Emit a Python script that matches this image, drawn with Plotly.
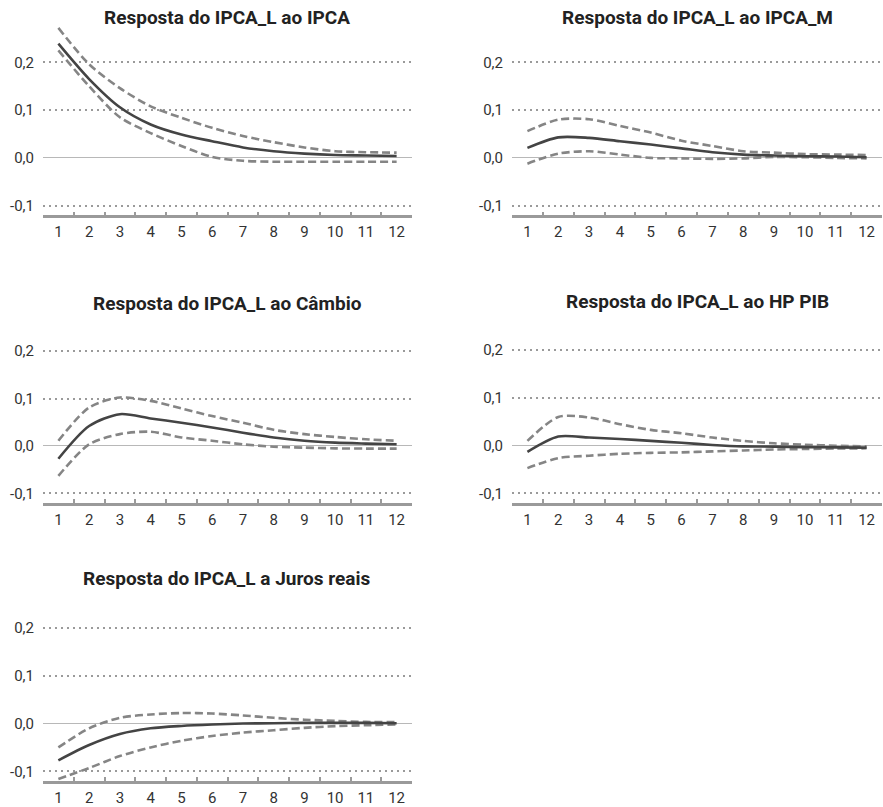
import plotly.graph_objects as go

periods = ["1", "2", "3", "4", "5", "6", "7", "8", "9", "10", "11", "12"]

titles = [
    "Resposta do IPCA_L ao IPCA",
    "Resposta do IPCA_L ao IPCA_M",
    "Resposta do IPCA_L ao Câmbio",
    "Resposta do IPCA_L ao HP PIB",
    "Resposta do IPCA_L a Juros reais",
]

ipca_resp = [0.239, 0.165, 0.106, 0.070, 0.049, 0.035, 0.022, 0.014, 0.009, 0.006, 0.005, 0.004]
ipca_up = [0.272, 0.196, 0.146, 0.108, 0.084, 0.063, 0.046, 0.033, 0.022, 0.014, 0.012, 0.011]
ipca_lo = [0.225, 0.150, 0.085, 0.052, 0.025, 0.002, -0.006, -0.008, -0.008, -0.008, -0.008, -0.008]

ipcam_resp = [0.021, 0.043, 0.042, 0.035, 0.028, 0.020, 0.012, 0.007, 0.005, 0.0035, 0.003, 0.0015]
ipcam_up = [0.056, 0.080, 0.081, 0.067, 0.053, 0.036, 0.025, 0.014, 0.011, 0.008, 0.007, 0.006]
ipcam_lo = [-0.012, 0.009, 0.014, 0.007, 0.000, -0.001, -0.002, -0.001, 0.002, 0.0015, 0.000, -0.001]

cambio_resp = [-0.027, 0.042, 0.067, 0.058, 0.049, 0.039, 0.028, 0.018, 0.011, 0.007, 0.005, 0.0035]
cambio_up = [0.011, 0.081, 0.102, 0.095, 0.079, 0.063, 0.049, 0.034, 0.025, 0.019, 0.014, 0.011]
cambio_lo = [-0.063, 0.0035, 0.025, 0.030, 0.018, 0.011, 0.0035, -0.0015, -0.0035, -0.005, -0.0055, -0.0055]

pib_resp = [-0.013, 0.019, 0.017, 0.014, 0.010, 0.006, 0.0015, -0.0015, -0.002, -0.003, -0.0035, -0.004]
pib_up = [0.010, 0.060, 0.059, 0.045, 0.033, 0.026, 0.017, 0.010, 0.005, 0.002, 0.000, -0.0015]
pib_lo = [-0.047, -0.026, -0.021, -0.017, -0.015, -0.014, -0.012, -0.010, -0.008, -0.007, -0.006, -0.0055]

juros_resp = [-0.077, -0.045, -0.022, -0.010, -0.005, -0.002, 0.000, 0.0007, 0.0014, 0.0014, 0.0014, 0.0007]
juros_up = [-0.050, -0.010, 0.012, 0.019, 0.022, 0.021, 0.017, 0.012, 0.008, 0.0055, 0.0035, 0.003]
juros_lo = [-0.116, -0.093, -0.068, -0.050, -0.036, -0.026, -0.019, -0.014, -0.009, -0.0055, -0.0035, -0.002]

y_tickvals = [-0.1, 0.0, 0.1, 0.2]
y_ticktext = ["-0,1", "0,0", "0,1", "0,2"]

series = [
    (ipca_resp, ipca_up, ipca_lo),
    (ipcam_resp, ipcam_up, ipcam_lo),
    (cambio_resp, cambio_up, cambio_lo),
    (pib_resp, pib_up, pib_lo),
    (juros_resp, juros_up, juros_lo),
]

W, H = 883, 807
# pixel layout of panels: (x0, x1, ytop, ybottom)
panels = [
    (43, 412, 26.8, 217.7),
    (512, 882, 26.8, 217.7),
    (43, 412, 319.0, 508.6),
    (512, 882, 317.8, 508.7),
    (43, 412, 598.8, 789.7),
]
title_pos = [(227, 18), (697, 18), (227, 307), (697, 305), (227, 585)]

fig = go.Figure()
font_family = "Roboto, Lato, sans-serif"

for i, ((resp, up, lo), (x0, x1, yt, yb)) in enumerate(zip(series, panels)):
    n = i + 1
    xa = "x" if n == 1 else f"x{n}"
    ya = "y" if n == 1 else f"y{n}"
    for vals in (up, lo):
        fig.add_trace(go.Scatter(
            x=periods, y=vals, mode="lines", xaxis=xa, yaxis=ya,
            line=dict(color="#858585", width=2.6, dash="8px,4px", shape="spline", smoothing=0.8),
            showlegend=False, hoverinfo="skip"))
    fig.add_trace(go.Scatter(
        x=periods, y=resp, mode="lines", xaxis=xa, yaxis=ya,
        line=dict(color="#444444", width=2.6, shape="spline", smoothing=0.8),
        showlegend=False, hoverinfo="skip"))

    xkey = "xaxis" if n == 1 else f"xaxis{n}"
    ykey = "yaxis" if n == 1 else f"yaxis{n}"
    fig.layout[xkey] = dict(
        domain=[x0 / W, x1 / W], anchor=ya, type="category",
        range=[-0.5, 11.5], tickson="boundaries", ticks="inside", ticklen=4,
        tickwidth=2, tickcolor="#9a9a9a", showline=True, linecolor="#9a9a9a",
        linewidth=2.5, showgrid=False, zeroline=False, ticklabelstandoff=1,
        tickfont=dict(family=font_family, size=15, color="#333333"),
        fixedrange=True,
    )
    fig.layout[ykey] = dict(
        domain=[1 - yb / H, 1 - yt / H], anchor=xa, range=[-0.12, 0.275],
        tickvals=y_tickvals, ticktext=y_ticktext, ticks="", ticklabelstandoff=8,
        showgrid=True, griddash="2px,4px", gridcolor="#9a9a9a", gridwidth=1.6,
        zeroline=True, zerolinecolor="#b8b8b8", zerolinewidth=1.2,
        showline=False,
        tickfont=dict(family=font_family, size=15, color="#333333"),
        fixedrange=True,
    )
    tx, ty = title_pos[i]
    fig.add_annotation(
        x=tx / W, y=1 - ty / H, xref="paper", yref="paper",
        text=f"<b>{titles[i]}</b>", showarrow=False,
        xanchor="center", yanchor="middle",
        font=dict(family=font_family, size=19, color="#222222"))

fig.update_layout(
    width=W, height=H, margin=dict(l=0, r=0, t=0, b=0),
    paper_bgcolor="white", plot_bgcolor="white",
)

fig.write_html(
    "out.html",
    config={"displayModeBar": False},
    post_script="document.body.style.margin='0';document.body.style.overflow='hidden';",
)
